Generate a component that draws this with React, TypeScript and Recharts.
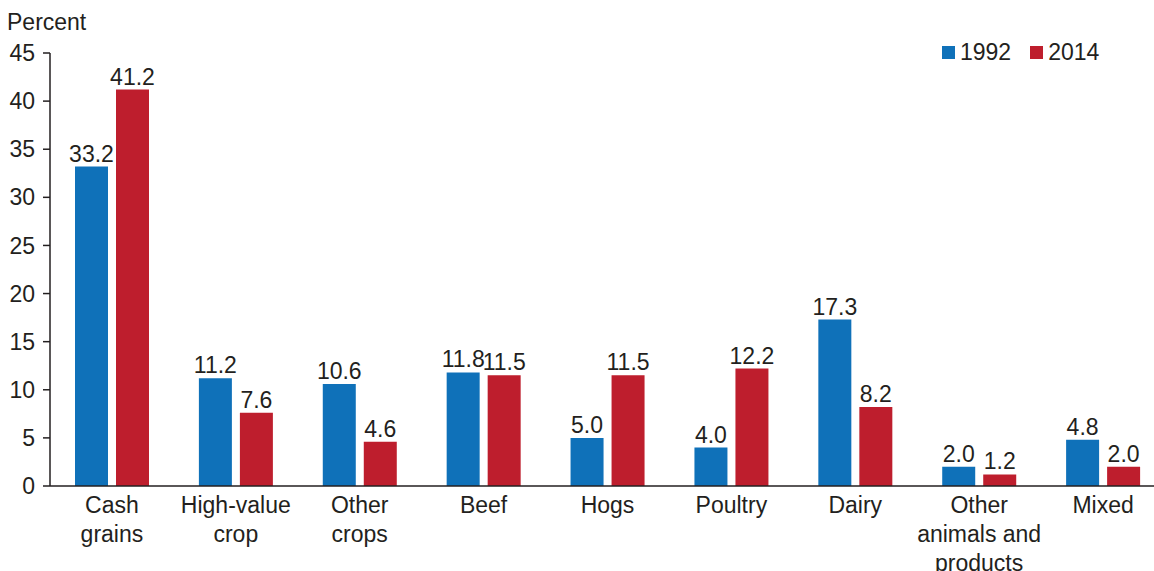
import React from "react";
import { BarChart, Bar, XAxis, YAxis, LabelList } from "recharts";

// farm type categories (line breaks as drawn under the axis)
const categories = [
  ["Cash", "grains"],
  ["High-value", "crop"],
  ["Other", "crops"],
  ["Beef"],
  ["Hogs"],
  ["Poultry"],
  ["Dairy"],
  ["Other", "animals and", "products"],
  ["Mixed"],
];
const share1992 = [33.2, 11.2, 10.6, 11.8, 5.0, 4.0, 17.3, 2.0, 4.8];
const share2014 = [41.2, 7.6, 4.6, 11.5, 11.5, 12.2, 8.2, 1.2, 2.0];
const yTicks = [0, 5, 10, 15, 20, 25, 30, 35, 40, 45];
const seriesNames = ["1992", "2014"];

const BLUE = "#0f71b9";
const RED = "#be1e2d";
const INK = "#231f20";
const FONT = "'Liberation Sans', Arial, sans-serif";
const FS = 23;

const data = categories.map((c, i) => ({
  name: c.join(" "),
  v1992: share1992[i],
  v2014: share2014[i],
}));

const CatTick = (props: any) => {
  const { x, y, index } = props;
  const lines = categories[index] || [];
  return (
    <text x={x} y={y} textAnchor="middle" fill={INK} fontSize={FS} fontFamily={FONT}>
      {lines.map((l, i) => (
        <tspan key={i} x={x} dy={i === 0 ? 19 : 29}>
          {l}
        </tspan>
      ))}
    </text>
  );
};

export default function App() {
  return (
    <div style={{ position: "absolute", left: 0, top: 0, width: 1154, height: 571, overflow: "hidden", background: "#fff" }}>
      <div style={{ position: "absolute", left: 7, top: 8, fontFamily: FONT, fontSize: FS, color: INK, lineHeight: "28px" }}>Percent</div>
      {/* legend */}
      <div style={{ position: "absolute", left: 942, top: 38, display: "flex", alignItems: "center", fontFamily: FONT, fontSize: FS, color: INK, lineHeight: "28px" }}>
        <span style={{ width: 13, height: 13, background: BLUE, display: "inline-block", marginRight: 5 }} />
        <span style={{ marginRight: 19 }}>{seriesNames[0]}</span>
        <span style={{ width: 13, height: 13, background: RED, display: "inline-block", marginRight: 5 }} />
        <span>{seriesNames[1]}</span>
      </div>
      <BarChart
        width={1170}
        height={571}
        data={data}
        margin={{ top: 53, right: 5, left: 0, bottom: 0 }}
        barSize={33}
        barGap={8}
      >
        <XAxis
          dataKey="name"
          interval={0}
          height={85}
          tickLine={false}
          axisLine={{ stroke: INK, strokeWidth: 1.5 }}
          tick={<CatTick />}
        />
        <YAxis
          width={50}
          domain={[0, 45]}
          ticks={yTicks}
          tickSize={7}
          tickMargin={8}
          axisLine={{ stroke: INK, strokeWidth: 1.5 }}
          tickLine={{ stroke: INK, strokeWidth: 1.5 }}
          tick={{ fill: INK, fontSize: FS, fontFamily: FONT }}
        />
        <Bar dataKey="v1992" name={seriesNames[0]} fill={BLUE} isAnimationActive={false}>
          <LabelList dataKey="v1992" position="top" offset={5} fill={INK} fontSize={FS} fontFamily={FONT} formatter={(v: any) => Number(v).toFixed(1)} />
        </Bar>
        <Bar dataKey="v2014" name={seriesNames[1]} fill={RED} isAnimationActive={false}>
          <LabelList dataKey="v2014" position="top" offset={5} fill={INK} fontSize={FS} fontFamily={FONT} formatter={(v: any) => Number(v).toFixed(1)} />
        </Bar>
      </BarChart>
    </div>
  );
}
